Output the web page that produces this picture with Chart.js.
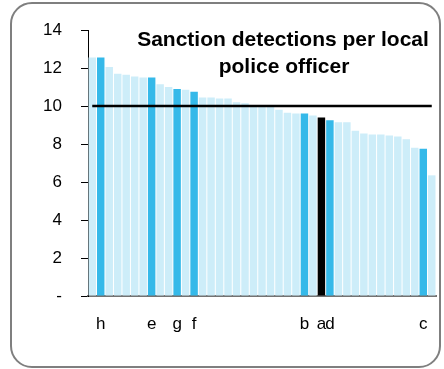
<!DOCTYPE html>
<html>
<head>
<meta charset="utf-8">
<script src="https://cdn.jsdelivr.net/npm/chart.js@4.4.0/dist/chart.umd.min.js"></script>
<style>
  html, body { margin: 0; padding: 0; background: #fff; }
  #frame {
    position: absolute; left: 10px; top: 2px; width: 427px; height: 362px;
    border: 2px solid #7f7f7f; border-radius: 22px;
  }
  #wrap { position: absolute; left: 0; top: 0; width: 444px; height: 369px; }
</style>
</head>
<body>
<div id="frame"></div>
<div id="wrap"><canvas id="myChart"></canvas></div>
<script>
// forces, sorted high to low; only a few are named on the axis
var forces = ['', 'h', '', '', '', '', '', 'e', '', '', 'g', '', 'f', '', '', '', '', '', '', '', '',
  '', '', '', '', 'b', '', 'a', 'd', '', '', '', '', '', '', '', '', '', '', 'c', ''];
var detections = [12.55, 12.55, 12.05, 11.7, 11.65, 11.55, 11.5, 11.5, 11.15, 11.0, 10.9, 10.85, 10.75,
  10.45, 10.45, 10.4, 10.4, 10.2, 10.15, 10.0, 10.0, 9.95, 9.8, 9.65, 9.6, 9.6, 9.5, 9.4, 9.25,
  9.15, 9.15, 8.7, 8.55, 8.5, 8.5, 8.45, 8.4, 8.25, 7.8, 7.75, 6.35];
var kind = ['l', 'b', 'l', 'l', 'l', 'l', 'l', 'b', 'l', 'l', 'b', 'l', 'b', 'l', 'l', 'l', 'l', 'l', 'l', 'l', 'l',
  'l', 'l', 'l', 'l', 'b', 'l', 'k', 'b', 'l', 'l', 'l', 'l', 'l', 'l', 'l', 'l', 'l', 'l', 'b', 'l'];
var benchmark = 10;
var yTicks = [0, 2, 4, 6, 8, 10, 12, 14];

var colours = { l: '#cdedf9', b: '#35b9e9', k: '#000000' };

const titlePlugin = {
  id: 'boxTitle',
  afterDraw(chart) {
    const c = chart.ctx;
    c.save();
    c.fillStyle = '#000';
    c.font = 'bold 21px "Liberation Sans", Arial, sans-serif';
    c.textAlign = 'center';
    c.textBaseline = 'alphabetic';
    c.fillText('Sanction detections per local', 283, 46);
    c.fillText('police officer', 284, 73);
    c.restore();
  }
};

new Chart(document.getElementById('myChart'), {
  data: {
    labels: forces,
    datasets: [{
      type: 'line',
      data: forces.map(() => benchmark),
      borderColor: '#000',
      borderWidth: 2.5,
      pointRadius: 0,
      order: 0
    }, {
      type: 'bar',
      data: detections,
      backgroundColor: kind.map(k => colours[k]),
      barPercentage: 0.88,
      categoryPercentage: 1,
      order: 1
    }]
  },
  options: {
    responsive: true,
    maintainAspectRatio: false,
    animation: false,
    layout: { padding: { top: 30, right: 8, left: 0, bottom: 0 } },
    plugins: { legend: { display: false }, tooltip: { enabled: false }, title: { display: false } },
    scales: {
      x: {
        grid: { display: false, drawTicks: false },
        border: { color: 'rgba(90,90,90,0.85)', width: 2 },
        ticks: {
          autoSkip: false, maxRotation: 0, padding: 18, color: '#000',
          font: { family: '"Liberation Sans", Arial, sans-serif', size: 17 }
        },
        afterFit(s) { s.height = 73; s.paddingLeft = 0; s.paddingRight = 0; }
      },
      y: {
        min: 0, max: 14,
        afterBuildTicks(s) { s.ticks = yTicks.map(v => ({ value: v })); },
        grid: { display: true, drawOnChartArea: false, tickLength: 7, color: '#000' },
        border: { color: '#000', width: 1 },
        ticks: {
          padding: 19, color: '#000',
          font: { family: '"Liberation Sans", Arial, sans-serif', size: 17 },
          callback: v => v === 0 ? '-' : v
        },
        afterFit(s) { s.width = 88; }
      }
    }
  },
  plugins: [titlePlugin]
});
</script>
</body>
</html>
